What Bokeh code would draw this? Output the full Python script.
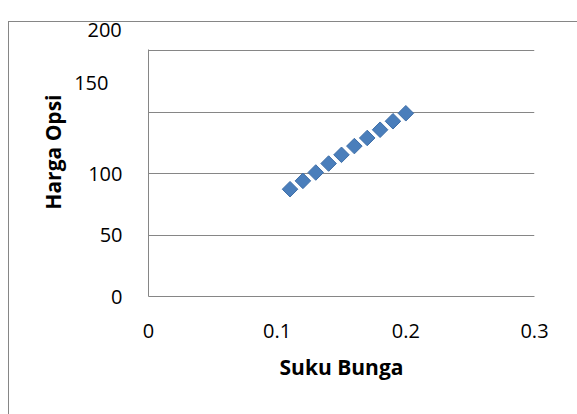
from bokeh.plotting import figure
from bokeh.models import FixedTicker, Range1d, LinearAxis, Title, InlineStyleSheet
from bokeh.embed import file_html
from bokeh.resources import INLINE
import math

suku_bunga = [0.11, 0.12, 0.13, 0.14, 0.15, 0.16, 0.17, 0.18, 0.19, 0.20]
harga_opsi = [87.3, 94.1, 100.9, 108.2, 115.3, 122.4, 129.0, 135.7, 142.6, 149.1]
x_ticks = [0, 0.1, 0.2, 0.3]
y_ticks = [0, 50, 100, 150, 200]
x_title = "Suku Bunga"
y_title = "Harga Opsi"

FONT = "Open Sans"
GRAY = "#868686"
BLUE = "#4A7EBB"

border_css = InlineStyleSheet(css="""
:host { position: relative; }
:host::after {
  content: "";
  position: absolute;
  left: 8px; top: 21px; right: 0px; bottom: 0px;
  border-left: 1px solid #868686;
  border-top: 1px solid #868686;
  pointer-events: none;
}
""")

p = figure(width=577, height=414, output_backend="svg", toolbar_location=None,
           x_range=Range1d(0, 0.3), y_range=Range1d(0, 201),
           min_border_left=148, min_border_right=43, min_border_top=49, min_border_bottom=118,
           stylesheets=[border_css])
p.outline_line_color = None
p.background_fill_color = "white"
p.border_fill_color = "white"

p.scatter(suku_bunga, harga_opsi, marker="square", size=11, angle=math.pi / 4,
          fill_color=BLUE, line_color="#3F6FA8", line_width=1)


def style_axis(ax):
    ax.axis_line_color = GRAY
    ax.axis_line_width = 1
    ax.major_tick_line_color = None
    ax.minor_tick_line_color = None
    ax.major_label_text_font = FONT
    ax.major_label_text_font_size = "20px"
    ax.major_label_text_color = "black"
    ax.axis_label_text_font = FONT
    ax.axis_label_text_font_size = "21px"
    ax.axis_label_text_font_style = "bold"
    ax.axis_label_text_color = "black"


style_axis(p.xaxis[0])
style_axis(p.yaxis[0])

p.xaxis.ticker = FixedTicker(ticks=x_ticks)
p.yaxis.ticker = FixedTicker(ticks=y_ticks)
p.xaxis.axis_label = x_title
p.xaxis.major_label_standoff = 21
p.yaxis.major_label_standoff = 20
p.xaxis.axis_label_standoff = 12

# the reference draws its two top y labels displaced upward from their gridlines;
# "150" is shown by a second, line-less axis on a shifted label scale
p.yaxis.major_label_overrides = {150: "", 200: ""}
p.extra_y_ranges = {"labels": Range1d(-30.4, 177.9)}
ax2 = LinearAxis(y_range_name="labels", ticker=FixedTicker(ticks=y_ticks[3:4]))
style_axis(ax2)
ax2.axis_line_color = None
ax2.major_label_standoff = -29
p.add_layout(ax2, "left")

# "200" sits above the plot area, on the chart border
p.add_layout(Title(text=str(y_ticks[4]), align="left", offset=-61, text_font=FONT,
                   text_font_size="20px", text_font_style="normal", text_color="black",
                   standoff=26), "above")

p.add_layout(Title(text=y_title, align="right", offset=45, text_font=FONT,
                   text_font_size="21px", text_font_style="bold", text_color="black",
                   standoff=10), "left")

p.xgrid.grid_line_color = None
p.ygrid.grid_line_color = GRAY
p.ygrid.grid_line_width = 1

open("out.html", "w").write(file_html(p, INLINE))
